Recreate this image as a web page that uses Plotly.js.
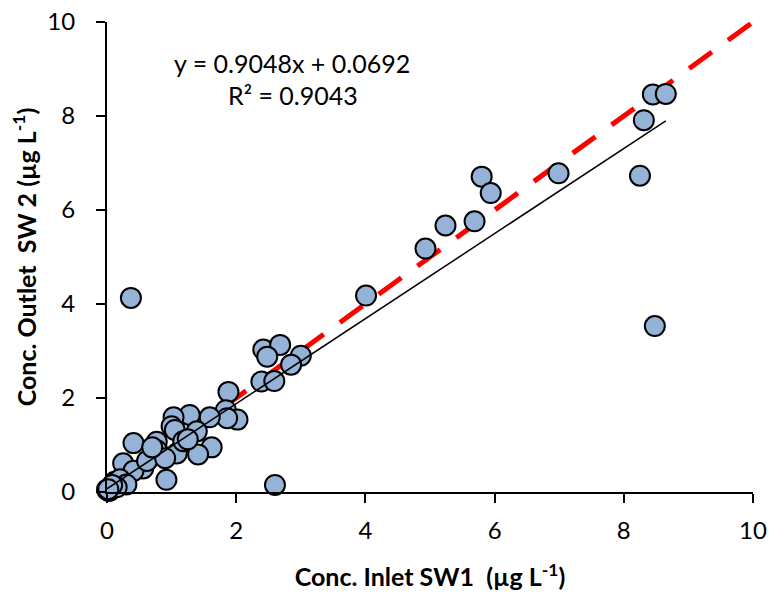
<!DOCTYPE html>
<html>
<head>
<meta charset="utf-8">
<script src="https://cdn.plot.ly/plotly-3.0.1.min.js"></script>
<style>html,body{margin:0;padding:0;background:#fff;}#chart{width:769px;height:598px;}</style>
</head>
<body>
<div id="chart"></div>
<script>
// Measured concentrations (µg/L): inlet SW1 (x) vs outlet SW2 (y)
var inletSW1 = [
  8.45, 8.65, 8.31, 8.25, 8.48, 6.99, 5.80, 5.94, 5.69, 5.24, 4.93, 4.01, 0.37, 2.60,
  2.42, 2.68, 2.48, 3.00, 2.85, 2.39, 2.59, 1.88, 1.84, 2.02, 1.86, 1.59,
  1.28, 1.03, 1.00, 1.39, 1.05, 0.77, 0.41, 0.77, 1.08, 1.62, 1.41, 0.92, 0.25, 0.56,
  0.41, 0.62, 0.90, 0.70, 1.18, 1.25,
  0.00, 0.03, 0.06, 0.10, 0.12, 0.18, 0.20, 0.30, 0.05, 0.15, 0.08, 0.02
];
var outletSW2 = [
  8.46, 8.47, 7.91, 6.73, 3.53, 6.78, 6.71, 6.36, 5.76, 5.67, 5.18, 4.18, 4.13, 0.15,
  3.03, 3.13, 2.88, 2.90, 2.71, 2.35, 2.36, 2.13, 1.74, 1.54, 1.57, 1.59,
  1.64, 1.59, 1.40, 1.29, 1.32, 1.07, 1.04, 0.89, 0.82, 0.95, 0.80, 0.26, 0.61, 0.50,
  0.45, 0.66, 0.72, 0.95, 1.08, 1.12,
  0.05, 0.02, 0.08, 0.12, 0.22, 0.18, 0.27, 0.16, 0.04, 0.10, 0.15, 0.06
];
var slope = 0.9048, intercept = 0.0692;
var oneToOneX = [0, 10];
var oneToOneY = [0, 10];
var xTicks = [0, 2, 4, 6, 8, 10];
var yTicks = [0, 2, 4, 6, 8, 10];

var xMin = 0, xMax = Math.max.apply(null, inletSW1);
var trendX = [xMin, xMax];
var trendY = trendX.map(function (v) { return slope * v + intercept; });

var traces = [
  { x: oneToOneX, y: oneToOneY, mode: 'lines', type: 'scatter',
    line: { color: '#FF0000', width: 5, dash: '28px,20px' }, hoverinfo: 'skip', cliponaxis: false },
  { x: inletSW1, y: outletSW2, mode: 'markers', type: 'scatter', cliponaxis: false,
    marker: { size: 20, color: '#95B3D7', line: { color: '#000000', width: 2 } } },
  { x: trendX, y: trendY, mode: 'lines', type: 'scatter',
    line: { color: '#000000', width: 1.5 }, hoverinfo: 'skip' }
];

var fontFam = 'Lato, "Open Sans", sans-serif';
var layout = {
  width: 769, height: 598,
  margin: { l: 107, r: 16, t: 22, b: 106 },
  paper_bgcolor: '#ffffff', plot_bgcolor: '#ffffff',
  showlegend: false,
  font: { family: fontFam, color: '#000000', size: 20 },
  xaxis: {
    range: [0, 10], tickvals: xTicks, ticktext: xTicks.map(String),
    showgrid: false, zeroline: false, showline: true, linecolor: '#000', linewidth: 2,
    ticks: 'outside', ticklen: 9, tickwidth: 2, tickcolor: '#000',
    ticklabelstandoff: 7,
    tickfont: { family: fontFam, size: 24, color: '#000' },
    title: { text: '<b>Conc. Inlet SW1&nbsp;&nbsp;(µg L<sup>-1</sup>)</b>', font: { family: fontFam, size: 25, color: '#000' }, standoff: 26 }
  },
  yaxis: {
    range: [0, 10], tickvals: yTicks, ticktext: yTicks.map(String),
    showgrid: false, zeroline: false, showline: true, linecolor: '#000', linewidth: 2,
    ticks: 'outside', ticklen: 9, tickwidth: 2, tickcolor: '#000',
    ticklabelstandoff: 16,
    tickfont: { family: fontFam, size: 24, color: '#000' },
    title: { text: '<b>Conc. Outlet&nbsp;&nbsp;SW 2 (µg L<sup>-1</sup>)</b>', font: { family: fontFam, size: 25, color: '#000' }, standoff: 4 }
  },
  annotations: [
    { xref: 'paper', yref: 'paper', x: (292 - 107) / 646, y: (492 - 63) / 470,
      text: 'y = 0.9048x + 0.0692', showarrow: false, xanchor: 'center', yanchor: 'middle',
      font: { family: fontFam, size: 25, color: '#000' } },
    { xref: 'paper', yref: 'paper', x: (293 - 107) / 646, y: (492 - 95) / 470,
      text: 'R² = 0.9043', showarrow: false, xanchor: 'center', yanchor: 'middle',
      font: { family: fontFam, size: 25, color: '#000' } }
  ]
};

Plotly.newPlot('chart', traces, layout, { displayModeBar: false, staticPlot: true });
</script>
</body>
</html>
